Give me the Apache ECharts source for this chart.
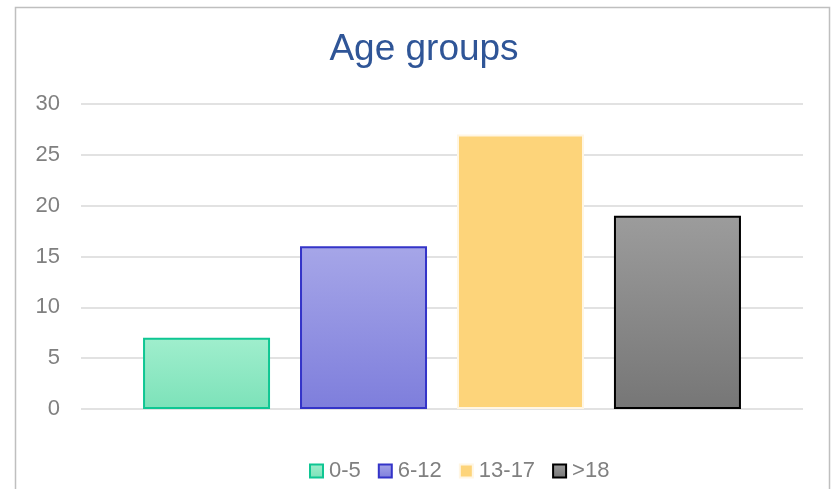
<!DOCTYPE html>
<html>
<head>
<meta charset="utf-8">
<script src="https://cdn.jsdelivr.net/npm/echarts@6/dist/echarts.min.js"></script>
<style>
  html, body { margin: 0; padding: 0; background: #fff; }
  #main { width: 832px; height: 489px; }
</style>
</head>
<body>
<div id="main"></div>
<script>
// age groups and how many in each
var groups = ['0-5', '6-12', '13-17', '>18'];
var counts = [7, 16, 27, 19];
var topColors = ['#A0EECD', '#A6A6E8', '#FDD47A', '#9C9C9C'];
var bottomColors = ['#7CE2B9', '#7E7EDC', '#FDD47A', '#767676'];
var borderColors = ['#0FC693', '#3434C8', '#FFF6E4', '#000000'];
var yTicks = [0, 5, 10, 15, 20, 25, 30];

var myChart = echarts.init(document.getElementById('main'));

var series = groups.map(function (g, i) {
    return {
        name: g,
        type: 'bar',
        barWidth: 127,
        barGap: '23.6%',
        data: [counts[i]],
        itemStyle: {
            color: new echarts.graphic.LinearGradient(0, 0, 0, 1, [
                { offset: 0, color: topColors[i] },
                { offset: 1, color: bottomColors[i] }
            ]),
            borderColor: borderColors[i],
            borderWidth: 2
        }
    };
});

option = {
    backgroundColor: '#fff',
    animation: false,
    title: {
        text: 'Age groups',
        left: 424,
        textAlign: 'center',
        top: 31,
        padding: 0,
        textStyle: {
            color: '#2F5597',
            fontSize: 37,
            fontWeight: 'normal',
            fontFamily: 'Liberation Sans'
        }
    },
    graphic: [{
        type: 'rect',
        silent: true,
        shape: { x: 15.5, y: 7.5, width: 814, height: 500 },
        style: { fill: 'none', stroke: '#BFBFBF', lineWidth: 1.5 }
    }],
    legend: {
        data: groups,
        left: 309,
        top: 460,
        padding: 0,
        icon: 'rect',
        itemWidth: 13,
        itemHeight: 13,
        itemGap: 17,
        textStyle: {
            color: '#808080',
            fontSize: 22,
            fontFamily: 'Liberation Sans',
            padding: [0, 0, 0, 1]
        }
    },
    grid: {
        left: 81,
        right: 29,
        top: 104,
        bottom: 80
    },
    xAxis: {
        type: 'category',
        data: ['Age groups'],
        axisLine: { show: false },
        axisTick: { show: false },
        axisLabel: { show: false }
    },
    yAxis: {
        type: 'value',
        min: yTicks[0],
        max: yTicks[yTicks.length - 1],
        interval: 5,
        axisLine: { show: false },
        axisTick: { show: false },
        axisLabel: {
            color: '#808080',
            fontSize: 22,
            fontFamily: 'Liberation Sans',
            margin: 21
        },
        splitLine: {
            lineStyle: { color: '#D9D9D9', width: 1.5 }
        }
    },
    series: series
};

myChart.setOption(option);
</script>
</body>
</html>
